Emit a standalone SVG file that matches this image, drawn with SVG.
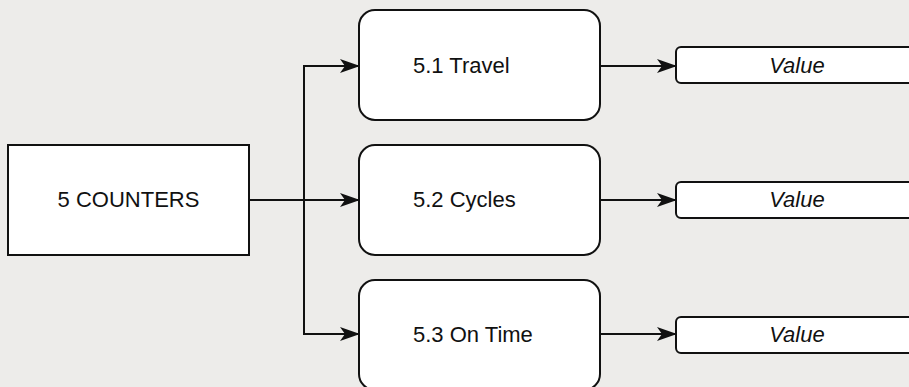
<svg xmlns="http://www.w3.org/2000/svg" width="909" height="387" viewBox="0 0 909 387">
<style>
.box{fill:#fff;stroke:#111;stroke-width:2}
.t{font-family:"Liberation Sans",Arial,sans-serif;font-size:22px;fill:#111;dominant-baseline:central}
.v{font-style:italic;text-anchor:middle}
.c{fill:none;stroke:#111;stroke-width:2}
</style>
<defs>
<marker id="a" viewBox="0 0 20 14" refX="19" refY="7" markerWidth="20" markerHeight="14" markerUnits="userSpaceOnUse" orient="auto">
<path d="M0,0 L20,7 L0,14 L5,7 Z" fill="#111"/>
</marker>
</defs>
<rect width="909" height="387" fill="#edecea"/>
<g id="connectors">
<path class="c" d="M249,200 H359" marker-end="url(#a)"/>
<path class="c" d="M304,200 V66 H359" marker-end="url(#a)"/>
<path class="c" d="M304,200 V334 H359" marker-end="url(#a)"/>
<path class="c" d="M600,66 H676" marker-end="url(#a)"/>
<path class="c" d="M600,200 H676" marker-end="url(#a)"/>
<path class="c" d="M600,334 H676" marker-end="url(#a)"/>
</g>
<g id="counters">
<rect class="box" x="8" y="145" width="241" height="110"/>
<text class="t" x="128.5" y="199" text-anchor="middle">5 COUNTERS</text>
</g>
<g id="travel">
<rect class="box" x="359" y="10" width="241" height="110" rx="16"/>
<text class="t" x="413" y="65">5.1 Travel</text>
</g>
<g id="cycles">
<rect class="box" x="359" y="145" width="241" height="110" rx="16"/>
<text class="t" x="413" y="199">5.2 Cycles</text>
</g>
<g id="ontime">
<rect class="box" x="359" y="280" width="241" height="110" rx="16"/>
<text class="t" x="413" y="334">5.3 On Time</text>
</g>
<g id="value1">
<rect class="box" x="676" y="47" width="260" height="36" rx="5"/>
<text class="t v" x="797" y="65">Value</text>
</g>
<g id="value2">
<rect class="box" x="676" y="182" width="260" height="36" rx="5"/>
<text class="t v" x="797" y="199">Value</text>
</g>
<g id="value3">
<rect class="box" x="676" y="317" width="260" height="36" rx="5"/>
<text class="t v" x="797" y="334">Value</text>
</g>
</svg>
